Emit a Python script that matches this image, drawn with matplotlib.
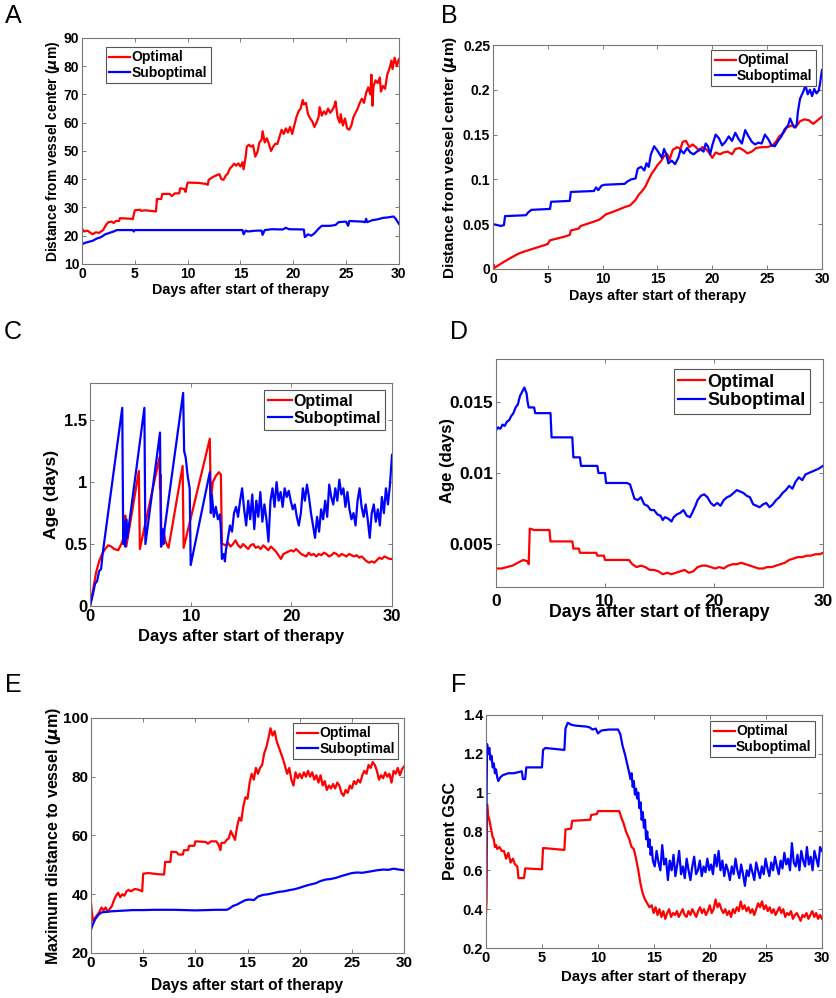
import numpy as np
import matplotlib
matplotlib.use('Agg')
import matplotlib.pyplot as plt

plt.rcParams['font.family'] = ['Liberation Sans', 'DejaVu Sans']
plt.rcParams['font.weight'] = 'bold'
plt.rcParams['axes.labelweight'] = 'bold'

RED = '#ff0000'
BLUE = '#0000ff'
XLAB = 'Days after start of therapy'

# ---- A: distance from vessel center (um)
a_opt_days = [0, 0.2, 0.5, 0.8, 1.0, 1.3, 1.6, 2.0, 2.3, 2.5, 2.8, 3.0, 3.2, 3.5, 3.6, 4.7, 4.8, 5.0, 5.5,
              5.6, 6.0, 6.9, 7.0, 7.1, 7.5, 7.6, 8.3, 8.5, 8.8, 9.2, 9.3, 9.7, 9.8, 10.0, 11.0, 11.8,
              11.9, 12.0, 12.4, 12.8, 13.0, 13.2, 13.4, 13.6, 13.8, 14.0, 14.2, 14.4, 14.6, 14.8, 15.0,
              15.2, 15.3, 15.5, 15.6, 15.8, 16.0, 16.2, 16.4, 16.6, 16.8, 17.0, 17.1, 17.3, 17.5, 17.7,
              17.9, 18.1, 18.3, 18.5, 18.7, 18.9, 19.1, 19.3, 19.5, 19.7, 19.9, 20.1, 20.3, 20.5, 20.7,
              20.9, 21.0, 21.2, 21.4, 21.6, 21.8, 22.0, 22.2, 22.4, 22.5, 22.7, 22.9, 23.1, 23.3, 23.5,
              23.7, 23.9, 24.0, 24.2, 24.4, 24.5, 24.7, 24.9, 25.1, 25.3, 25.5, 25.7, 25.9, 26.1, 26.3,
              26.5, 26.7, 26.9, 27.1, 27.3, 27.4, 27.5, 27.6, 27.8, 28.0, 28.2, 28.3, 28.5, 28.7, 28.9,
              29.1, 29.3, 29.4, 29.6, 29.8, 30.0]
a_opt = [22.5, 21.5, 21.8, 21, 20.5, 21.2, 21, 22, 24, 24.8, 25, 24.5, 25.2, 25.2, 26.2, 26, 25.8, 29, 29.2,
         28.8, 29, 28.6, 28.6, 33, 33, 34.8, 34.8, 34, 35, 35, 36.8, 36.5, 35.5, 38.8, 38.7, 38.3,
         38, 39.8, 40.8, 41.5, 41.8, 40, 39.8, 41.2, 42, 43.8, 44.5, 45.5, 44.8, 45.6, 44.5,
         46, 43.5, 48, 51.5, 52.2, 51.5, 52, 48, 49.5, 53, 54, 57, 53, 54.5, 52.5,
         50, 51.5, 52.5, 52.5, 55, 57.5, 56, 58, 56.5, 58.5, 56, 59, 62, 64, 65,
         68, 66.5, 67, 63, 61.5, 60.5, 58.5, 60, 62, 65.5, 62.5, 64, 63, 65, 63.5,
         64.5, 66, 67.5, 62, 60, 63, 59, 61.5, 58, 57.5, 59, 62, 63.5, 65, 67,
         68.5, 67, 70.5, 72.5, 70, 77, 66, 73, 75, 74, 76, 71, 73, 72, 77,
         79, 82, 79, 83, 80, 82.5]
a_sub_days = [0, 0.3, 0.6, 1.0, 1.4, 1.8, 2.2, 2.6, 3.0, 3.3, 4.8, 4.9, 5.0, 15.2, 15.3, 15.5, 15.7, 16.5,
              17.0, 17.1, 17.3, 18.0, 19.0, 19.3, 19.6, 21.0, 21.1, 21.4, 21.7, 22.0, 22.4, 22.7, 23.5,
              24.0, 24.3, 25.0, 25.2, 25.3, 26.5, 26.8, 26.9, 27.0, 27.5, 28.0, 28.5, 29.0, 29.5, 29.7, 30.0]
a_sub = [17, 17.5, 17.8, 18.2, 19, 19.5, 20.5, 21, 21.5, 22, 22, 21.5, 22, 22, 20.5, 21.8, 21.5, 21.8,
         21.8, 20.3, 22, 22.3, 22.2, 22.8, 22.3, 22.2, 19.5, 20.5, 20, 20.8, 22.5, 23.5, 23.5,
         23.8, 24.8, 25, 23.5, 25.2, 25, 24.8, 26, 24.8, 25.5, 25.8, 26.3, 26.5, 26.8, 26, 24.2]

# ---- B: distance from vessel center, second scale
b_opt_days = [0, 0.05, 0.1, 1.0, 2.0, 2.5, 3.5, 4.8, 5.0, 5.2, 6.5, 7.0, 7.1, 7.8, 8.0, 9.0, 9.7, 10.0, 10.3,
              11.0, 12.0, 12.5, 13.0, 13.3, 13.6, 13.9, 14.2, 14.5, 14.8, 15.0, 15.3, 15.6, 15.9, 16.1,
              16.4, 16.8, 17.1, 17.3, 17.6, 17.9, 18.2, 18.5, 18.8, 19.1, 19.4, 19.7, 20.0, 20.3, 20.7,
              21.0, 21.4, 21.8, 22.1, 22.5, 22.9, 23.2, 23.6, 24.0, 24.5, 25.0, 25.5, 25.8, 26.1, 26.5,
              26.8, 27.2, 27.6, 28.0, 28.4, 28.8, 29.2, 29.6, 30.0]
b_opt = [0, 0.005, 0.001, 0.008, 0.015, 0.018, 0.022, 0.027, 0.028, 0.032, 0.036, 0.038, 0.043, 0.045,
         0.048, 0.052, 0.055, 0.058, 0.061, 0.064, 0.069, 0.071, 0.077, 0.083, 0.087, 0.092, 0.1, 0.107,
         0.112, 0.116, 0.12, 0.126, 0.128, 0.122, 0.133, 0.136, 0.134, 0.142, 0.143, 0.136, 0.139,
         0.136, 0.132, 0.136, 0.134, 0.13, 0.124, 0.13, 0.128, 0.13, 0.131, 0.128, 0.134, 0.135, 0.132,
         0.129, 0.131, 0.135, 0.136, 0.136, 0.138, 0.142, 0.148, 0.152, 0.158, 0.16, 0.158, 0.165,
         0.167, 0.166, 0.162, 0.166, 0.17]
b_sub_days = [0, 0.4, 0.7, 1.0, 1.1, 3.0, 3.2, 3.5, 5.2, 5.3, 7.0, 7.1, 9.2, 9.4, 9.6, 9.9, 10.2, 12.0,
              12.3, 12.6, 13.0, 13.2, 13.5, 13.8, 14.0, 14.2, 14.4, 14.7, 15.0, 15.2, 15.4, 15.6, 15.8,
              16.0, 16.3, 16.6, 16.9, 17.1, 17.4, 17.7, 18.0, 18.3, 18.6, 18.9, 19.2, 19.4, 19.6, 19.8,
              20.0, 20.3, 20.6, 20.9, 21.2, 21.5, 21.8, 22.1, 22.4, 22.7, 23.0, 23.3, 23.6, 23.9, 24.2,
              24.5, 24.8, 25.1, 25.4, 25.7, 26.0, 26.3, 26.6, 26.9, 27.1, 27.3, 27.5, 27.7, 27.8, 28.0,
              28.3, 28.5, 28.7, 28.9, 29.1, 29.3, 29.5, 29.7, 29.8, 30.0]
b_sub = [0.05, 0.049, 0.048, 0.049, 0.059, 0.06, 0.063, 0.066, 0.067, 0.075, 0.076, 0.086, 0.087, 0.091,
         0.088, 0.093, 0.094, 0.095, 0.098, 0.1, 0.101, 0.112, 0.114, 0.11, 0.118, 0.114, 0.128, 0.137,
         0.132, 0.128, 0.124, 0.134, 0.128, 0.118, 0.121, 0.117, 0.124, 0.133, 0.129, 0.135, 0.13,
         0.128, 0.131, 0.134, 0.131, 0.14, 0.137, 0.128, 0.138, 0.15, 0.146, 0.138, 0.142, 0.148,
         0.143, 0.152, 0.145, 0.14, 0.155, 0.148, 0.142, 0.139, 0.141, 0.14, 0.15, 0.145, 0.138,
         0.137, 0.143, 0.148, 0.156, 0.16, 0.168, 0.162, 0.158, 0.161, 0.175, 0.19, 0.198, 0.205,
         0.195, 0.2, 0.193, 0.201, 0.196, 0.199, 0.205, 0.222]

# ---- C: age (days)
c_opt_days = [0, 0.3, 0.6, 0.9, 1.2, 1.5, 1.8, 2.1, 2.4, 2.8, 3.1, 3.4, 3.5, 3.6, 4.85, 4.95, 6.9, 6.95,
              7.0, 7.1, 7.3, 7.5, 7.8, 9.2, 9.3, 11.9, 12.0, 12.2, 12.5, 12.8, 13.0, 13.1]
c_opt = [0, 0.13, 0.27, 0.36, 0.42, 0.46, 0.49, 0.48, 0.46, 0.45, 0.5, 0.56, 0.73, 0.48, 1.09, 0.46, 1.2,
         0.95, 1.06, 0.48, 0.6, 0.52, 0.47, 1.13, 0.47, 1.35, 0.85, 1.0, 1.05, 1.08, 1.06, 0.5]
c_opt_tail = [0.5, 0.49, 0.51, 0.48, 0.5, 0.53, 0.49, 0.47, 0.5, 0.48, 0.46, 0.49, 0.5, 0.47, 0.48, 0.46,
              0.49, 0.47, 0.45, 0.48, 0.46, 0.44, 0.41, 0.38, 0.42, 0.43, 0.44, 0.45, 0.44, 0.46, 0.44,
              0.42, 0.41, 0.4, 0.43, 0.41, 0.42, 0.4, 0.42, 0.41, 0.43, 0.42, 0.4, 0.41, 0.43, 0.42, 0.4,
              0.42, 0.41, 0.4, 0.42, 0.41, 0.4, 0.41, 0.39, 0.4, 0.38, 0.36, 0.35, 0.36, 0.35, 0.37,
              0.39, 0.38, 0.4, 0.39, 0.38, 0.38]
c_sub_days = [0, 0.3, 0.5, 0.7, 0.9, 1.1, 1.25, 3.2, 3.3, 3.4, 3.5, 3.6, 3.7, 5.4, 5.5, 6.95, 7.05, 7.2,
              7.3, 7.4, 9.25, 9.35, 9.5, 9.7, 9.9, 10.0, 11.9, 12.0, 12.1, 12.3, 12.5, 12.7, 12.9, 13.0,
              13.1, 13.3, 13.4]
c_sub = [0, 0.1, 0.18, 0.2, 0.28, 0.3, 0.42, 1.6, 0.5, 0.68, 0.48, 0.7, 0.55, 1.6, 0.5, 1.4, 0.48, 0.62,
         0.5, 0.62, 1.72, 1.25, 1.2, 1.05, 0.95, 0.33, 1.08, 0.75, 0.9, 0.72, 0.8, 0.7, 0.74, 0.62,
         0.38, 0.42, 0.36]
c_sub_tail = [0.45, 0.55, 0.65, 0.6, 0.75, 0.8, 0.72, 0.85, 0.95, 0.78, 0.65, 0.85, 0.7, 0.9, 0.62, 0.85,
              0.72, 0.92, 0.68, 0.82, 0.7, 0.52, 0.85, 0.95, 0.8, 1.0, 0.85, 0.92, 0.8, 0.95, 0.88,
              0.93, 0.85, 0.78, 0.82, 0.72, 0.65, 0.75, 0.95, 0.85, 0.98, 0.88, 0.75, 0.65, 0.55, 0.72,
              0.6, 0.78, 0.7, 0.85, 0.72, 0.98, 0.88, 0.82, 0.95, 0.85, 1.02, 0.9, 0.95, 0.8, 0.92,
              0.78, 0.7, 0.75, 0.65, 0.85, 0.95, 0.8, 0.72, 0.82, 0.7, 0.55, 0.75, 0.82, 0.68, 0.78,
              0.65, 0.88, 0.75, 0.95, 0.82, 0.98, 1.22]

# ---- D: age (days), second scale
d_opt_days = [0, 0.5, 1.0, 1.5, 2.0, 2.5, 2.9, 3.0, 3.1, 3.5, 4.9, 5.0, 7.0, 7.1, 7.6, 7.7, 9.2, 9.3, 9.9,
              10.0, 12.2, 12.5, 12.9, 13.3, 13.7, 14.1, 14.5, 14.9, 15.3, 15.7, 16.1, 16.5, 16.9, 17.3,
              17.7, 18.1, 18.5, 18.9, 19.3, 19.7, 20.1, 20.5, 20.9, 21.3, 21.7, 22.1, 22.5, 22.9, 23.3,
              23.7, 24.1, 24.5, 24.9, 25.3, 25.7, 26.1, 26.5, 26.9, 27.3, 27.7, 28.1, 28.5, 28.9, 29.3,
              29.7, 30.0]
d_opt = [0.0033, 0.0033, 0.0034, 0.0035, 0.0037, 0.0039, 0.0038, 0.0036, 0.0061, 0.0060, 0.0060, 0.0052,
         0.0052, 0.0047, 0.0047, 0.0044, 0.0044, 0.0042, 0.0042, 0.0039, 0.0039, 0.0036, 0.0034,
         0.0035, 0.0034, 0.0032, 0.0032, 0.0031, 0.0029, 0.0030, 0.0029, 0.0030, 0.0031, 0.0032,
         0.0030, 0.0031, 0.0034, 0.0035, 0.0035, 0.0034, 0.0033, 0.0034, 0.0033, 0.0035, 0.0036,
         0.0036, 0.0037, 0.0036, 0.0035, 0.0034, 0.0033, 0.0033, 0.0034, 0.0034, 0.0035, 0.0036,
         0.0037, 0.0039, 0.0040, 0.0041, 0.0041, 0.0042, 0.0042, 0.0043, 0.0043, 0.0044]
d_sub_days = [0, 0.2, 0.4, 0.6, 0.8, 1.0, 1.2, 1.4, 1.6, 1.8, 2.0, 2.2, 2.4, 2.6, 2.8, 2.9, 3.0, 3.5, 3.6,
              5.0, 5.1, 7.0, 7.1, 7.7, 7.8, 9.3, 9.4, 10.0, 10.1, 12.0, 12.3, 12.5, 12.7, 13.0, 13.3,
              13.6, 13.9, 14.2, 14.5, 14.8, 15.1, 15.3, 15.5, 15.8, 16.1, 16.3, 16.6, 16.9, 17.2, 17.5,
              17.8, 18.0, 18.3, 18.5, 18.8, 19.1, 19.4, 19.7, 20.0, 20.3, 20.6, 20.9, 21.2, 21.5, 21.8,
              22.1, 22.4, 22.7, 23.0, 23.3, 23.6, 23.9, 24.2, 24.5, 24.8, 25.1, 25.4, 25.7, 26.0, 26.3,
              26.6, 26.9, 27.2, 27.5, 27.8, 28.1, 28.4, 28.7, 29.0, 29.3, 29.6, 30.0]
d_sub = [0.0130, 0.0132, 0.0131, 0.0134, 0.0133, 0.0136, 0.0137, 0.0140, 0.0142, 0.0146, 0.0148, 0.0154,
         0.0157, 0.0160, 0.0156, 0.0150, 0.0146, 0.0146, 0.0142, 0.0142, 0.0125, 0.0125, 0.0111,
         0.0111, 0.0105, 0.0105, 0.0100, 0.0100, 0.0093, 0.0093, 0.0092, 0.0087, 0.0082, 0.0081,
         0.0083, 0.0078, 0.0077, 0.0074, 0.0074, 0.0071, 0.0070, 0.0067, 0.0069, 0.0068, 0.0066,
         0.0069, 0.0071, 0.0072, 0.0074, 0.0070, 0.0069, 0.0072, 0.0077, 0.0081, 0.0084, 0.0085,
         0.0083, 0.0079, 0.0077, 0.0079, 0.0077, 0.0081, 0.0083, 0.0084, 0.0086, 0.0088, 0.0087,
         0.0086, 0.0084, 0.0083, 0.0078, 0.0077, 0.0076, 0.0078, 0.0079, 0.0076, 0.0078, 0.0081,
         0.0083, 0.0086, 0.0088, 0.0091, 0.0089, 0.0094, 0.0097, 0.0095, 0.0099, 0.0100, 0.0101,
         0.0102, 0.0103, 0.0105]

# ---- E: maximum distance to vessel (um)
e_opt_days = [0, 0.1, 0.2, 0.4, 0.6, 0.8, 1.0, 1.2, 1.4, 1.6, 1.8, 2.0, 2.2, 2.4, 2.6, 2.8, 3.0, 3.2, 3.4,
              3.6, 3.8, 4.2, 4.6, 4.9, 5.0, 5.5, 6.0, 6.5, 7.0, 7.1, 7.6, 7.7, 8.2, 8.4, 8.8, 8.9, 9.3,
              9.4, 9.9, 10.0, 11.0, 11.2, 11.5, 12.0, 12.2, 12.4, 12.5, 12.8, 13.0, 13.2, 13.4, 13.6,
              13.8, 14.0, 14.2, 14.4, 14.6, 14.8, 15.0, 15.2, 15.4, 15.6, 15.8, 16.0, 16.2, 16.4, 16.6,
              16.8, 17.0, 17.2, 17.4, 17.6, 17.8, 18.0, 18.2, 18.4, 18.6, 18.8, 19.0, 19.2, 19.4, 19.6,
              19.8, 20.0, 20.2, 20.4, 20.6, 20.8, 21.0, 21.2, 21.4, 21.6, 21.8, 22.0, 22.2, 22.4, 22.6,
              22.8, 23.0, 23.2, 23.4, 23.6, 23.8, 24.0, 24.2, 24.4, 24.6, 24.8, 25.0, 25.2, 25.4, 25.6,
              25.8, 26.0, 26.2, 26.4, 26.6, 26.8, 27.0, 27.2, 27.4, 27.6, 27.8, 28.0, 28.2, 28.4, 28.6,
              28.8, 29.0, 29.2, 29.4, 29.6, 29.8, 30.0]
e_opt = [37, 33, 31, 32, 33, 34, 35.5, 34.5, 35.5, 34, 35, 36, 38, 39.5, 40.5, 39, 40, 39.5, 41,
         41.5, 41, 41.8, 41.5, 41, 47, 47.2, 47, 46.8, 46.7, 51, 51, 54.5, 54.3, 53.5, 53.5, 55, 55,
         56.5, 56.5, 58, 57.8, 57.2, 58, 58, 57, 55, 57.5, 57.5, 58.5, 59, 61.5, 60,
         58.5, 63, 66, 65, 70, 73, 72.5, 78, 81, 79, 83, 81, 83, 84, 88,
         90, 93, 96.5, 94, 95.5, 92, 90, 88, 86, 83.5, 81, 83, 79, 77, 81.5,
         79.5, 81, 79.5, 81.5, 80, 82, 80, 81.5, 79, 80.5, 78, 80.5, 77, 78.5, 75.5,
         77, 76, 77.5, 76, 78, 77, 74.5, 73.5, 75.5, 74.5, 77, 76, 78.5, 77.5, 79,
         78, 80.5, 82, 81, 84, 83, 85, 84, 82, 79, 80.5, 79.5, 81.5, 80, 81,
         78, 82, 81, 83, 80.5, 82.5, 83.5]
e_sub_days = [0, 0.2, 0.4, 0.6, 0.8, 1.0, 1.5, 2.0, 3.0, 4.0, 5.0, 6.0, 7.0, 8.0, 9.0, 10.0, 11.0, 12.0,
              13.0, 13.3, 13.6, 14.0, 14.4, 14.8, 15.2, 15.6, 16.0, 16.5, 17.0, 17.5, 18.0, 18.5, 19.0,
              19.5, 20.0, 20.5, 21.0, 21.5, 22.0, 22.5, 23.0, 23.5, 24.0, 24.5, 25.0, 25.5, 26.0, 26.5,
              27.0, 27.5, 28.0, 28.5, 29.0, 29.5, 30.0]
e_sub = [28, 30, 31.5, 32.5, 33.3, 33.8, 34, 34.2, 34.4, 34.6, 34.6, 34.7, 34.7, 34.7, 34.6, 34.5, 34.6,
         34.7, 34.7, 35.2, 36, 36.5, 37.3, 38, 38.2, 38, 39.2, 39.8, 40, 40.4, 40.8, 41, 41.4,
         41.7, 42.2, 42.8, 43.3, 43.7, 44.5, 45, 45.2, 45.6, 46.2, 46.7, 47.2, 47.4, 47.3, 47.6,
         47.9, 48.2, 48.4, 48.3, 48.7, 48.4, 48.2]

# ---- F: percent GSC
f_opt_days = [0, 0.05, 0.1, 0.2, 0.3, 0.4, 0.5, 0.6, 0.7, 0.8, 0.9, 1.0, 1.2, 1.4, 1.6, 1.8, 2.0, 2.2, 2.4,
              2.6, 2.8, 2.9, 3.4, 3.5, 5.0, 5.1, 7.0, 7.1, 7.6, 7.7, 9.3, 9.4, 9.9, 10.0, 11.9, 12.1,
              12.3, 12.5, 12.8, 13.0, 13.2, 13.4, 13.6, 13.8, 14.0, 14.2, 14.4, 14.6]
f_opt = [0.37, 0.44, 0.94, 0.88, 0.86, 0.83, 0.8, 0.77, 0.76, 0.72, 0.73, 0.71, 0.72, 0.7, 0.7, 0.66,
         0.69, 0.64, 0.66, 0.63, 0.62, 0.56, 0.56, 0.61, 0.605, 0.715, 0.705, 0.81, 0.815, 0.855,
         0.86, 0.885, 0.89, 0.905, 0.905, 0.87, 0.84, 0.8, 0.76, 0.72, 0.71, 0.66, 0.6, 0.53, 0.48,
         0.45, 0.43, 0.41]
f_opt_tail = [0.42, 0.38, 0.41, 0.37, 0.4, 0.36, 0.39, 0.35, 0.38, 0.4, 0.36, 0.38, 0.37, 0.39, 0.36, 0.38,
              0.4, 0.37, 0.36, 0.39, 0.37, 0.4, 0.38, 0.36, 0.39, 0.41, 0.38, 0.4, 0.37, 0.39, 0.42,
              0.38, 0.4, 0.45, 0.41, 0.43, 0.4, 0.38, 0.4, 0.37, 0.39, 0.36, 0.4, 0.38, 0.41, 0.39,
              0.44, 0.4, 0.42, 0.39, 0.41, 0.38, 0.4, 0.37, 0.4, 0.43, 0.41, 0.44, 0.4, 0.42, 0.39,
              0.41, 0.38, 0.4, 0.37, 0.39, 0.41, 0.38, 0.4, 0.36, 0.38, 0.37, 0.39, 0.35, 0.37, 0.38,
              0.36, 0.34, 0.37, 0.36, 0.38, 0.35, 0.37, 0.39, 0.36, 0.38, 0.35, 0.37, 0.35]
f_sub_days = [0, 0.05, 0.1, 0.2, 0.3, 0.4, 0.5, 0.6, 0.7, 0.8, 0.9, 1.0, 1.1, 1.3, 1.5, 2.0, 2.5, 3.2, 3.3,
              3.5, 3.6, 5.0, 5.1, 5.3, 7.0, 7.1, 7.3, 7.6, 8.0, 9.0, 9.3, 9.5, 9.8, 10.0, 10.3, 11.0,
              11.8, 12.0, 12.2, 12.4, 12.6, 12.8, 12.9, 13.0, 13.1, 13.2, 13.3, 13.4, 13.5, 13.6, 13.7,
              13.8, 13.9, 14.0, 14.1, 14.2, 14.3, 14.4, 14.5, 14.6, 14.7, 14.8]
f_sub = [0.44, 0.95, 1.25, 1.2, 1.23, 1.17, 1.19, 1.13, 1.15, 1.1, 1.12, 1.08, 1.06, 1.08, 1.09, 1.1, 1.1,
         1.11, 1.07, 1.07, 1.13, 1.13, 1.22, 1.23, 1.22, 1.33, 1.36, 1.35, 1.345, 1.34, 1.335, 1.325,
         1.33, 1.305, 1.32, 1.325, 1.325, 1.3, 1.24, 1.2, 1.15, 1.1, 1.07, 1.1, 1.03, 1.06, 0.99,
         1.02, 0.97, 1.0, 0.92, 0.95, 0.86, 0.9, 0.82, 0.86, 0.76, 0.8, 0.72, 0.76, 0.68, 0.72]
f_sub_tail = [0.65, 0.62, 0.7, 0.64, 0.6, 0.73, 0.63, 0.66, 0.55, 0.65, 0.6, 0.68, 0.57, 0.63, 0.7, 0.58,
              0.62, 0.56, 0.66, 0.6, 0.55, 0.62, 0.67, 0.58, 0.6, 0.65, 0.57, 0.62, 0.59, 0.66, 0.6,
              0.63, 0.58, 0.68, 0.62, 0.7, 0.6, 0.65, 0.57, 0.63, 0.6, 0.55, 0.62, 0.58, 0.66, 0.6,
              0.56, 0.63, 0.58, 0.52, 0.6, 0.57, 0.63, 0.59, 0.55, 0.64, 0.6, 0.56, 0.62, 0.58, 0.66,
              0.61, 0.57, 0.64, 0.6, 0.67, 0.62, 0.58, 0.65, 0.61, 0.69, 0.63, 0.66, 0.6, 0.74, 0.64,
              0.62, 0.68, 0.6, 0.7, 0.65, 0.62, 0.72, 0.63, 0.67, 0.6, 0.7, 0.66, 0.62, 0.72, 0.7]


def with_tail(days, vals, tail, start, end):
    # noisy tail sampled evenly between start and end
    return (list(days) + list(np.linspace(start, end, len(tail))), list(vals) + list(tail))


fig = plt.figure(figsize=(8.36, 9.98), dpi=100)


def make_panel(rect, letter, letter_xy, opt, sub, xlim, ylim, xticks, yticks, ylabel,
               tick_fs, xlab_fs, ylab_fs, leg_fs, xlab_y, ylab_x, leg_loc, leg_anchor,
               ylab_y=0.5, tick_pad=2):
    ax = fig.add_axes(rect)
    ax.plot(opt[0], opt[1], color=RED, lw=1.6, label='Optimal')
    ax.plot(sub[0], sub[1], color=BLUE, lw=1.6, label='Suboptimal')
    ax.set_xlim(xlim)
    ax.set_ylim(ylim)
    ax.set_xticks(xticks)
    ax.set_xticklabels([f'{v:g}' for v in xticks])
    ax.set_yticks(yticks)
    ax.set_yticklabels([f'{v:g}' for v in yticks])
    ax.tick_params(direction='in', top=True, right=True, length=3, width=0.6, color='#666666',
                   labelsize=tick_fs, pad=2)
    ax.tick_params(axis='x', pad=tick_pad)
    for s in ax.spines.values():
        s.set_color('#777777')
        s.set_linewidth(0.8)
    ax.set_xlabel(XLAB, fontsize=xlab_fs, va='center')
    ax.xaxis.set_label_coords(0.5, xlab_y)
    ax.set_ylabel(ylabel, fontsize=ylab_fs, va='center')
    ax.yaxis.set_label_coords(ylab_x, ylab_y)
    leg = ax.legend(loc=leg_loc, bbox_to_anchor=leg_anchor, borderaxespad=0, fontsize=leg_fs,
                    fancybox=False, framealpha=1, edgecolor='#555555', handlelength=1.5,
                    handletextpad=0.1, borderpad=0.25, labelspacing=0.1)
    leg.get_frame().set_linewidth(0.8)
    fig.text(letter_xy[0], letter_xy[1], letter, fontsize=18, fontweight='normal',
             ha='center', va='center')
    return ax


make_panel([0.0981, 0.7355, 0.379, 0.2265], 'A', (0.0155, 0.984),
           (a_opt_days, a_opt), (a_sub_days, a_sub), (0, 30), (10, 90),
           [0, 5, 10, 15, 20, 25, 30], [10, 20, 30, 40, 50, 60, 70, 80, 90],
           r'Distance from vessel center ($\mu$m)', 10, 10.3, 10, 10, -0.115, -0.0915,
           'upper left', (0.0757, 0.960))

make_panel([0.5897, 0.7305, 0.3935, 0.2244], 'B', (0.537, 0.984),
           (b_opt_days, b_opt), (b_sub_days, b_sub), (0, 30), (0, 0.25),
           [0, 5, 10, 15, 20, 25, 30], [0, 0.05, 0.1, 0.15, 0.2, 0.25],
           r'Distance from vessel center ($\mu$m)', 10, 10.3, 11, 10, -0.12, -0.1307,
           'upper right', (0.982, 0.978))

make_panel([0.1077, 0.3928, 0.3612, 0.2234], 'C', (0.0155, 0.667),
           with_tail(c_opt_days, c_opt, c_opt_tail, 13.2, 30),
           with_tail(c_sub_days, c_sub, c_sub_tail, 13.5, 30), (0, 30), (0, 1.8),
           [0, 10, 20, 30], [0, 0.5, 1, 1.5],
           'Age (days)', 12, 12, 12.5, 11.5, -0.139, -0.126,
           'upper right', (0.977, 0.969))

make_panel([0.5933, 0.4118, 0.3911, 0.2285], 'D', (0.549, 0.667),
           (d_opt_days, d_opt), (d_sub_days, d_sub), (0, 30), (0.002, 0.018),
           [0, 10, 20, 30], [0.005, 0.01, 0.015],
           'Age (days)', 12.5, 12.8, 12, 13, -0.11, -0.147,
           'upper right', (0.960, 0.956), ylab_y=0.553, tick_pad=5)

make_panel([0.1089, 0.0451, 0.3744, 0.2355], 'E', (0.0155, 0.3136),
           (e_opt_days, e_opt), (e_sub_days, e_sub), (0, 30), (20, 100),
           [0, 5, 10, 15, 20, 25, 30], [20, 40, 60, 80, 100],
           r'Maximum distance to vessel ($\mu$m)', 11, 11.2, 11.5, 10, -0.14, -0.121,
           'upper right', (0.981, 0.979))

make_panel([0.5813, 0.0501, 0.4019, 0.2335], 'F', (0.549, 0.3136),
           with_tail(f_opt_days, f_opt, f_opt_tail, 14.8, 30),
           with_tail(f_sub_days, f_sub, f_sub_tail, 14.9, 30), (0, 30), (0.2, 1.4),
           [0, 5, 10, 15, 20, 25, 30], [0.2, 0.4, 0.6, 0.8, 1, 1.2, 1.4],
           'Percent GSC', 10.5, 10.8, 11.5, 10, -0.1245, -0.107,
           'upper right', (0.979, 0.974))

fig.savefig('out.png', dpi=100)
